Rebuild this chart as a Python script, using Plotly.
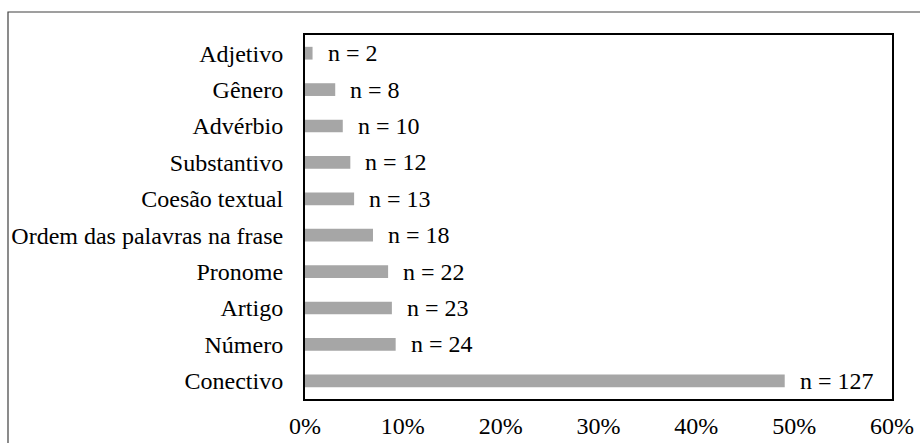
import plotly.graph_objects as go

categories = ["Conectivo", "Número", "Artigo", "Pronome", "Ordem das palavras na frase",
              "Coesão textual", "Substantivo", "Advérbio", "Gênero", "Adjetivo"]
counts = [127, 24, 23, 22, 18, 13, 12, 10, 8, 2]
tick_values = [0, 0.1, 0.2, 0.3, 0.4, 0.5, 0.6]
tick_labels = ["0%", "10%", "20%", "30%", "40%", "50%", "60%"]

total = sum(counts)
shares = [c / total for c in counts]

W, H = 920, 443
L, R, T, B = 305, 28, 35, 44
pw, ph = W - L - R, H - T - B

font = dict(family="Times New Roman, Liberation Serif, DejaVu Serif, serif",
            size=24, color="black")

fig = go.Figure(go.Bar(
    x=shares, y=categories, orientation="h",
    marker=dict(color="#a6a6a6", line=dict(width=0)),
    width=0.35, hoverinfo="skip",
))

for cat, share, n in zip(categories, shares, counts):
    fig.add_annotation(x=share, y=cat, text=f"n = {n}", showarrow=False,
                       xanchor="left", yanchor="middle", xshift=13, font=font)

# outer frame around the whole figure (open at right and bottom edges)
fig.add_shape(type="rect", xref="paper", yref="paper",
              x0=(8 - L) / pw, x1=(W + 5 - L) / pw,
              y0=-(H + 5 - T - ph) / ph, y1=1 + (T - 12) / ph,
              line=dict(color="#404040", width=1.2), layer="below")

fig.update_layout(
    width=W, height=H, margin=dict(l=L, r=R, t=T, b=B, autoexpand=False),
    paper_bgcolor="white", plot_bgcolor="white",
    font=font, showlegend=False, bargap=0.66,
    xaxis=dict(range=[0, 0.6], tickvals=tick_values, ticktext=tick_labels,
               showgrid=False, zeroline=False, showline=True, mirror=True,
               linecolor="black", linewidth=2, ticks="", ticklen=0,
               ticklabelstandoff=4, automargin=False, fixedrange=True),
    yaxis=dict(showgrid=False, zeroline=False, showline=True, mirror=True,
               linecolor="black", linewidth=2, ticks="", ticklen=0,
               ticklabelstandoff=15, automargin=False, fixedrange=True),
)

fig.write_html("out.html")
